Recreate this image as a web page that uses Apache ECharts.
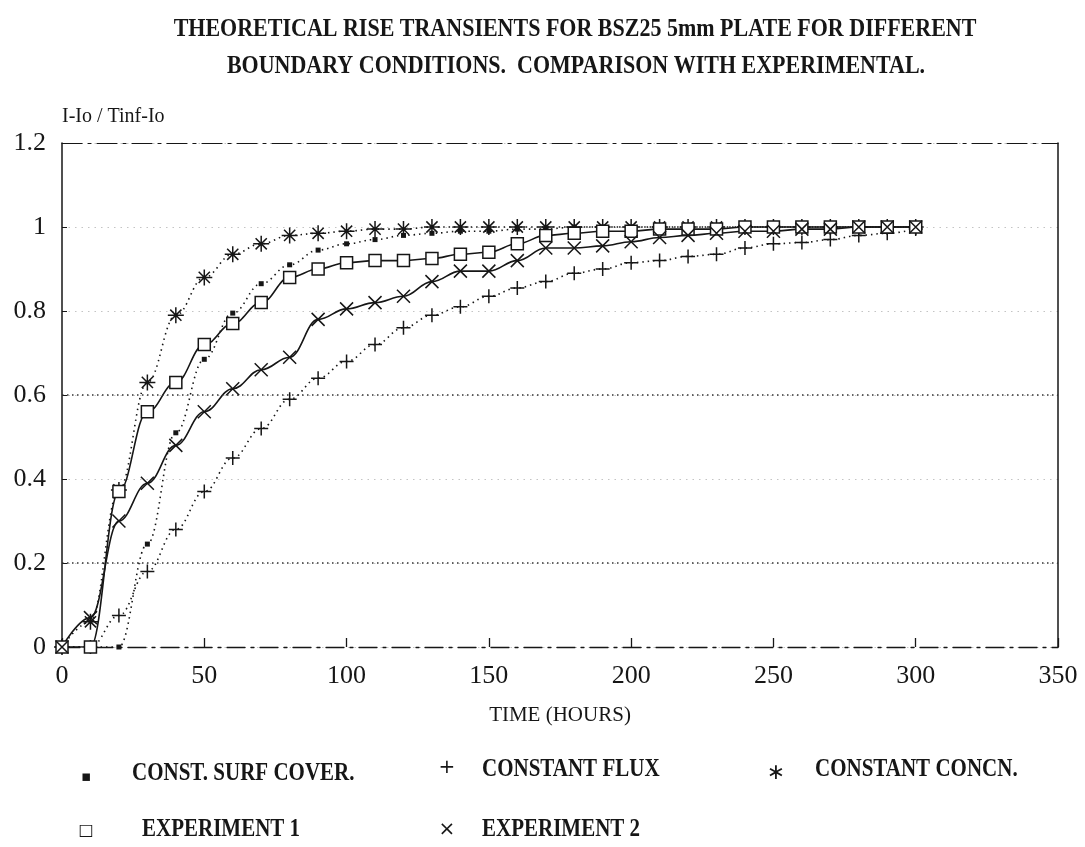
<!DOCTYPE html>
<html>
<head>
<meta charset="utf-8">
<script src="https://cdn.jsdelivr.net/npm/echarts@6/dist/echarts.min.js"></script>
<style>
  html, body { margin: 0; padding: 0; background: #fff; }
  #chart { width: 1085px; height: 847px; }
</style>
</head>
<body>
<div id="chart"></div>
<script>
// Sampling times (hours)
const hours = [0, 10, 20, 30, 40, 50, 60, 70, 80, 90, 100, 110, 120, 130, 140, 150,
               160, 170, 180, 190, 200, 210, 220, 230, 240, 250, 260, 270, 280, 290, 300];

// Normalised current (I-Io)/(Iinf-Io) for each boundary condition / experiment
const surfCover = [0, 0, 0, 0.245, 0.51, 0.685, 0.795, 0.865, 0.91, 0.945, 0.96, 0.97, 0.98, 0.985, 0.99, 0.99,
                   0.995, 0.995, 1.0, 1.0, 1.0, 1.0, 1.0, 1.0, 1.0, 1.0, 1.0, 1.0, 1.0, 1.0, 1.0];
const constFlux = [0, 0, 0.075, 0.18, 0.28, 0.37, 0.45, 0.52, 0.59, 0.64, 0.68, 0.72, 0.76, 0.79, 0.81, 0.835,
                   0.855, 0.87, 0.89, 0.90, 0.915, 0.92, 0.93, 0.935, 0.95, 0.96, 0.963, 0.97, 0.98, 0.985, 0.995];
const constConc = [0, 0.06, 0.374, 0.63, 0.79, 0.88, 0.935, 0.96, 0.98, 0.985, 0.99, 0.995, 0.995, 1.0, 1.0, 1.0,
                   1.0, 1.0, 1.0, 1.0, 1.0, 1.0, 1.0, 1.0, 1.0, 1.0, 1.0, 1.0, 1.0, 1.0, 1.0];
const experiment1 = [0, 0, 0.37, 0.56, 0.63, 0.72, 0.77, 0.82, 0.88, 0.90, 0.915, 0.92, 0.92, 0.925, 0.935, 0.94,
                     0.96, 0.98, 0.985, 0.99, 0.99, 0.995, 0.995, 0.995, 1.0, 1.0, 1.0, 1.0, 1.0, 1.0, 1.0];
const experiment2 = [0, 0.07, 0.30, 0.39, 0.48, 0.56, 0.615, 0.66, 0.69, 0.78, 0.805, 0.82, 0.835, 0.87, 0.895, 0.895,
                     0.92, 0.95, 0.95, 0.955, 0.965, 0.975, 0.98, 0.985, 0.99, 0.99, 0.995, 0.995, 1.0, 1.0, 1.0];

// Axis ticks
const xTicks = { min: 0, max: 350, interval: 50 };
const yTicks = { min: 0, max: 1.2, interval: 0.2 };

// Text
const titleLines = ['THEORETICAL RISE TRANSIENTS FOR BSZ25 5mm PLATE FOR DIFFERENT',
                    'BOUNDARY CONDITIONS.  COMPARISON WITH EXPERIMENTAL.'];
const yName = 'I-Io / Tinf-Io';
const xName = 'TIME (HOURS)';
const seriesNames = ['CONST. SURF COVER.', 'CONSTANT FLUX', 'CONSTANT CONCN.', 'EXPERIMENT 1', 'EXPERIMENT 2'];

const ink = '#161616';
const serif = '"Liberation Serif", "DejaVu Serif", serif';

// Stroke-only marker outlines
const PLUS = 'path://M10,0L10,20M0,10L20,10';
const CROSS = 'path://M0,0L20,20M20,0L0,20';
const STAR = 'path://M10,0L10,20M0,10L20,10M3,3L17,17M17,3L3,17';

const pairs = vals => hours.map((h, i) => [h, vals[i]]);
const dotted = { color: ink, width: 1.6, type: [1.5, 4] };
const solid = { color: ink, width: 1.6, type: 'solid' };
const strokeMark = { color: 'transparent', borderColor: ink, borderWidth: 1.5 };

// Key entries: glyph, its position and font, then label position
const keyItems = [
  { glyph: '▪', gx: 86, gy: 777, gfont: '15px "DejaVu Sans"', label: seriesNames[0], lx: 132, ly: 774 },
  { glyph: '+', gx: 447, gy: 768, gfont: '20px "DejaVu Sans"', label: seriesNames[1], lx: 482, ly: 770 },
  { glyph: '∗', gx: 776, gy: 773, gfont: '22px "DejaVu Sans"', label: seriesNames[2], lx: 815, ly: 770 },
  { glyph: '□', gx: 86, gy: 831, gfont: '16px "DejaVu Sans"', label: seriesNames[3], lx: 142, ly: 830 },
  { glyph: '×', gx: 447, gy: 830, gfont: '20px "DejaVu Sans"', label: seriesNames[4], lx: 482, ly: 830 }
];

const keyGraphics = [];
keyItems.forEach(k => {
  keyGraphics.push({ type: 'text', x: k.gx, y: k.gy,
    style: { text: k.glyph, font: k.gfont, fill: ink, align: 'center', verticalAlign: 'middle' } });
  keyGraphics.push({ type: 'text', x: k.lx, y: k.ly, scaleY: 1.15, originY: 0,
    style: { text: k.label, font: 'bold 21px ' + serif, fill: ink, align: 'left', verticalAlign: 'middle' } });
});

const chart = echarts.init(document.getElementById('chart'), null, { renderer: 'canvas' });

chart.setOption({
  animation: false,
  backgroundColor: '#fff',
  grid: { left: 62, right: 27, top: 143, bottom: 200, containLabel: false },
  xAxis: [{
    type: 'value', min: xTicks.min, max: xTicks.max, interval: xTicks.interval,
    name: xName, nameLocation: 'middle', nameGap: 58,
    nameTextStyle: { fontFamily: serif, fontSize: 21, color: ink },
    axisLine: { show: true, lineStyle: { color: ink, width: 1.3, type: [18, 6, 3, 6] } },
    axisTick: { show: true, inside: true, length: 9, lineStyle: { color: ink, width: 1.3 } },
    axisLabel: { fontFamily: serif, fontSize: 26, color: ink, margin: 16 },
    splitLine: { show: false }
  }, {
    type: 'value', position: 'top', min: xTicks.min, max: xTicks.max,
    axisLine: { show: true, onZero: false, lineStyle: { color: ink, width: 1.2, type: [20, 6, 3, 6] } },
    axisTick: { show: false }, axisLabel: { show: false }, splitLine: { show: false }
  }],
  yAxis: [{
    type: 'value', min: yTicks.min, max: yTicks.max, interval: yTicks.interval,
    name: yName, nameLocation: 'end', nameGap: 26,
    nameTextStyle: { fontFamily: serif, fontSize: 20, color: ink, align: 'left', verticalAlign: 'middle' },
    axisLine: { show: true, lineStyle: { color: ink, width: 1.5 } },
    axisTick: { show: true, inside: true, length: 5, lineStyle: { color: ink } },
    axisLabel: { fontFamily: serif, fontSize: 26, color: ink, margin: 16,
                 formatter: v => String(Math.round(v * 10) / 10) },
    splitLine: { show: true, lineStyle: { color: '#c4c4c4', width: 1.2, type: [1.5, 5] } }
  }, {
    type: 'value', position: 'right', min: yTicks.min, max: yTicks.max,
    axisLine: { show: true, onZero: false, lineStyle: { color: ink, width: 1.5 } },
    axisTick: { show: false }, axisLabel: { show: false }, splitLine: { show: false }
  }],
  series: [{
    name: seriesNames[0], type: 'line', data: pairs(surfCover),
    smooth: 0.4, smoothMonotone: 'x',
    symbol: 'rect', symbolSize: 5, itemStyle: { color: ink },
    lineStyle: dotted, z: 3,
    markLine: {
      silent: true, symbol: 'none', label: { show: false },
      lineStyle: { color: '#333', width: 1.5, type: [1.5, 3.5] },
      data: [{ yAxis: 0.2 }, { yAxis: 0.6 }]
    }
  }, {
    name: seriesNames[1], type: 'line', data: pairs(constFlux),
    smooth: 0.4, smoothMonotone: 'x',
    symbol: PLUS, symbolSize: 14, itemStyle: strokeMark,
    lineStyle: dotted, z: 3
  }, {
    name: seriesNames[2], type: 'line', data: pairs(constConc),
    smooth: 0.4, smoothMonotone: 'x',
    symbol: STAR, symbolSize: 16, itemStyle: strokeMark,
    lineStyle: dotted, z: 3
  }, {
    name: seriesNames[3], type: 'line', data: pairs(experiment1),
    smooth: 0.4, smoothMonotone: 'x',
    symbol: 'rect', symbolSize: 12,
    itemStyle: { color: '#fff', borderColor: ink, borderWidth: 1.5 },
    lineStyle: solid, z: 4
  }, {
    name: seriesNames[4], type: 'line', data: pairs(experiment2),
    smooth: 0.4, smoothMonotone: 'x',
    symbol: CROSS, symbolSize: 13, itemStyle: strokeMark,
    lineStyle: solid, z: 4
  }],
  graphic: [
    { type: 'text', x: 575, y: 30, scaleY: 1.12, style: { text: titleLines[0], font: 'bold 22px ' + serif, fill: ink, align: 'center', verticalAlign: 'middle' } },
    { type: 'text', x: 576, y: 67, scaleY: 1.12, style: { text: titleLines[1], font: 'bold 22px ' + serif, fill: ink, align: 'center', verticalAlign: 'middle' } }
  ].concat(keyGraphics)
});
</script>
</body>
</html>
